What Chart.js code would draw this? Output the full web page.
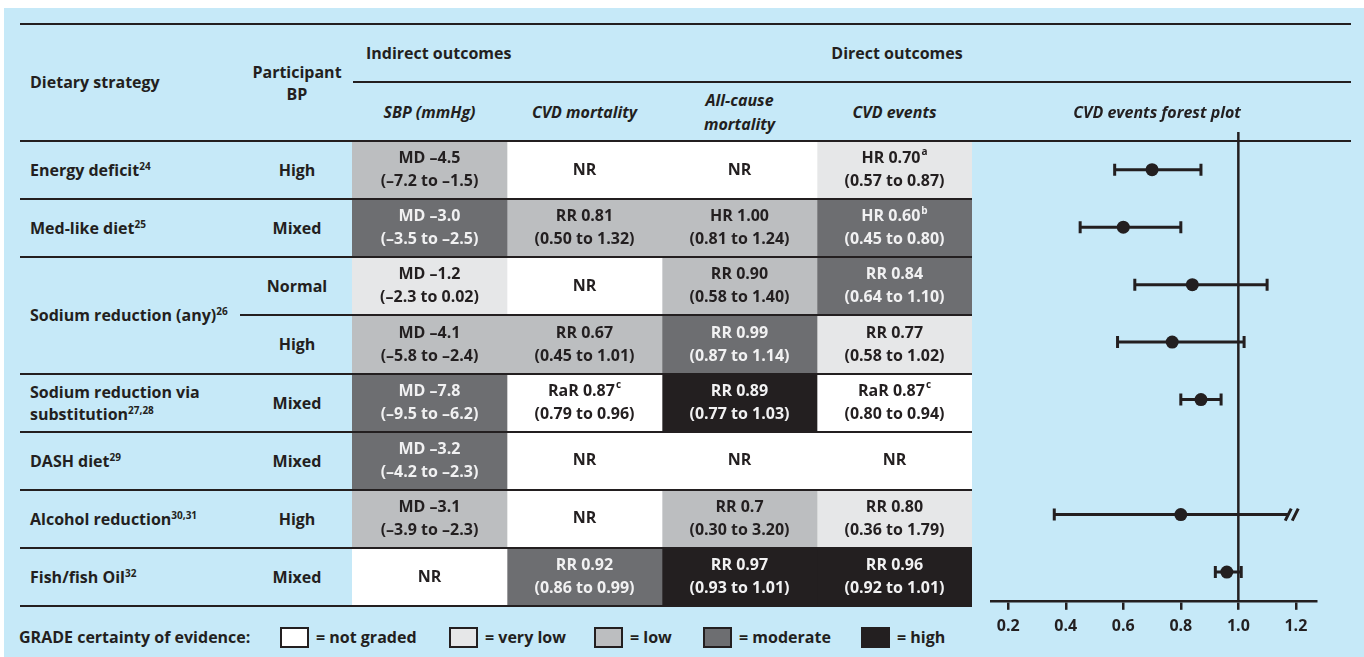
<!DOCTYPE html>
<html>
<head>
<meta charset="utf-8">
<script src="https://cdn.jsdelivr.net/npm/chart.js@4.4.1/dist/chart.umd.min.js"></script>
<style>
  body { margin: 0; background: #fff; font-family: 'Open Sans', sans-serif; font-weight: 700; color: #231f20; }
  #panel { position: absolute; left: 4px; top: 8px; width: 1360px; height: 649px; background: #c6e9f8; }
  .t { position: absolute; font-size: 16px; line-height: 22px; white-space: nowrap; }
  .c { text-align: center; transform: translate(-50%, -50%); }
  .l { transform: translate(0, -50%); }
  .i { font-style: italic; line-height: 24px; }
  .t sup { font-size: 10px; line-height: 0; vertical-align: 6px; }
  .rule { position: absolute; height: 2px; background: #231f20; }
  .box { position: absolute; width: 25px; height: 17px; border: 2px solid #231f20; }
  canvas { position: absolute; }
</style>
</head>
<body>
<div id="panel"></div>
<canvas id="cells" width="620" height="465" style="left:352px;top:141px"></canvas>
<canvas id="forest" width="379" height="545" style="left:972px;top:112px"></canvas>
<div id="overlay"></div>
<script>
// rows of the table (Sodium reduction (any) has two rows)
const strategies = ['Energy deficit', 'Med-like diet', 'Sodium reduction (any)', 'Sodium reduction via<br>substitution', 'DASH diet', 'Alcohol reduction', 'Fish/fish Oil'];
const strategyRefs = ['24', '25', '26', '27,28', '29', '30,31', '32'];
const strategyRows = [[0], [1], [2, 3], [4], [5], [6], [7]];
const participantBP = ['High', 'Mixed', 'Normal', 'High', 'Mixed', 'Mixed', 'High', 'Mixed'];

const outcomeCols = ['SBP (mmHg)', 'CVD mortality', 'All-cause<br>mortality', 'CVD events'];
// cell texts, '^' marks a footnote letter
const sbp = ['MD –4.5\n(–7.2 to –1.5)', 'MD –3.0\n(–3.5 to –2.5)', 'MD –1.2\n(–2.3 to 0.02)', 'MD –4.1\n(–5.8 to –2.4)',
             'MD –7.8\n(–9.5 to –6.2)', 'MD –3.2\n(–4.2 to –2.3)', 'MD –3.1\n(–3.9 to –2.3)', 'NR'];
const cvdMortality = ['NR', 'RR 0.81\n(0.50 to 1.32)', 'NR', 'RR 0.67\n(0.45 to 1.01)',
                      'RaR 0.87^c\n(0.79 to 0.96)', 'NR', 'NR', 'RR 0.92\n(0.86 to 0.99)'];
const allCause = ['NR', 'HR 1.00\n(0.81 to 1.24)', 'RR 0.90\n(0.58 to 1.40)', 'RR 0.99\n(0.87 to 1.14)',
                  'RR 0.89\n(0.77 to 1.03)', 'NR', 'RR 0.7\n(0.30 to 3.20)', 'RR 0.97\n(0.93 to 1.01)'];
const cvdEvents = ['HR 0.70^a\n(0.57 to 0.87)', 'HR 0.60^b\n(0.45 to 0.80)', 'RR 0.84\n(0.64 to 1.10)', 'RR 0.77\n(0.58 to 1.02)',
                   'RaR 0.87^c\n(0.80 to 0.94)', 'NR', 'RR 0.80\n(0.36 to 1.79)', 'RR 0.96\n(0.92 to 1.01)'];

// GRADE: 0 not graded, 1 very low, 2 low, 3 moderate, 4 high
const gradeNames = ['not graded', 'very low', 'low', 'moderate', 'high'];
const sbpGrade = [2, 3, 1, 2, 3, 3, 2, 0];
const cvdMortalityGrade = [0, 2, 0, 2, 0, 0, 0, 3];
const allCauseGrade = [0, 2, 2, 3, 4, 0, 2, 4];
const cvdEventsGrade = [1, 3, 3, 1, 0, 0, 1, 4];

// CVD events forest plot
const forestEst = [0.70, 0.60, 0.84, 0.77, 0.87, null, 0.80, 0.96];
const forestLo = [0.57, 0.45, 0.64, 0.58, 0.80, null, 0.36, 0.92];
const forestHi = [0.87, 0.80, 1.10, 1.02, 0.94, null, 1.79, 1.01];
const forestTicks = [0.2, 0.4, 0.6, 0.8, 1.0, 1.2];
const forestCut = 1.17; // intervals beyond this are broken with //

const outcomeCells = [sbp, cvdMortality, allCause, cvdEvents];
const outcomeGrades = [sbpGrade, cvdMortalityGrade, allCauseGrade, cvdEventsGrade];
const gradeColors = ['#ffffff', '#e6e7e8', '#bcbec0', '#6d6e71', '#231f20'];
const ink = '#231f20';
const FONT = '"Open Sans", sans-serif';

const rowKeys = participantBP.map((bp, r) => 'row' + r);
const bodyTop = 141, bodyH = 465, rowH = bodyH / rowKeys.length;
const rowMid = r => bodyTop + rowH * (r + 0.5);
const colLeft = 352, colW = 155;

const overlay = document.getElementById('overlay');
function put(html, x, y, cls) {
  const d = document.createElement('div');
  d.className = 't ' + cls;
  d.style.left = x + 'px';
  d.style.top = y + 'px';
  d.innerHTML = html;
  overlay.appendChild(d);
}
function rule(x1, x2, y) {
  const d = document.createElement('div');
  d.className = 'rule';
  d.style.left = x1 + 'px';
  d.style.width = (x2 - x1) + 'px';
  d.style.top = (y - 1) + 'px';
  overlay.appendChild(d);
}

// header
put('Dietary strategy', 30, 82, 'l');
put('Participant<br>BP', 297, 83, 'c');
put('Indirect outcomes', 366, 53, 'l');
put('Direct outcomes', 897, 53, 'c');
outcomeCols.forEach((name, c) => put(name, colLeft + colW * (c + 0.5), 112, 'c i'));
put('CVD events forest plot', 1157, 112, 'c i');
rule(20, 1351, 24);
rule(353, 1351, 82);
rule(20, 1351, bodyTop);

// left columns
strategies.forEach((s, k) => {
  const rows = strategyRows[k];
  const y = (rowMid(rows[0]) + rowMid(rows[rows.length - 1])) / 2;
  put(s + '<sup>' + strategyRefs[k] + '</sup>', 30, y, 'l');
});
participantBP.forEach((bp, r) => put(bp, 297, rowMid(r), 'c'));
rowKeys.forEach((k, r) => {
  const y = bodyTop + rowH * (r + 1);
  const sub = strategyRows.some(g => g.length > 1 && g[0] === r);
  rule(sub ? 240 : 20, 972, y);
});

// legend
put('GRADE certainty of evidence:', 19, 637, 'l');
const legendX = [280, 449, 594, 703, 861];
gradeNames.forEach((g, i) => {
  const b = document.createElement('div');
  b.className = 'box';
  b.style.left = legendX[i] + 'px';
  b.style.top = '627px';
  b.style.background = gradeColors[i];
  overlay.appendChild(b);
  put('= ' + g, legendX[i] + 36, 637, 'l');
});

const cellText = {
  id: 'cellText',
  afterDatasetsDraw(chart) {
    const { ctx, scales: { x, y } } = chart;
    ctx.save();
    ctx.textAlign = 'left';
    ctx.textBaseline = 'middle';
    outcomeCells.forEach((col, c) => col.forEach((txt, r) => {
      const cx = x.getPixelForValue(c + 0.5);
      const cy = y.getPixelForValue(r);
      const lines = txt.split('\n');
      ctx.fillStyle = outcomeGrades[c][r] >= 3 ? '#f1f1f2' : ink;
      lines.forEach((ln, k) => {
        const ly = cy + (k - (lines.length - 1) / 2) * 23;
        const [main, sup] = ln.split('^');
        ctx.font = '700 16px ' + FONT;
        const w = ctx.measureText(main).width;
        let sw = 0;
        if (sup) { ctx.font = '700 10px ' + FONT; sw = ctx.measureText(sup).width + 1; }
        const sx = cx - (w + sw) / 2;
        ctx.font = '700 16px ' + FONT;
        ctx.fillText(main, sx, ly);
        if (sup) { ctx.font = '700 10px ' + FONT; ctx.fillText(sup, sx + w + 1, ly - 6); }
      });
    }));
    ctx.restore();
  }
};

const forestBars = {
  id: 'forestBars',
  beforeDatasetsDraw(chart) {
    const { ctx, chartArea, scales: { x, y } } = chart;
    ctx.save();
    ctx.strokeStyle = ink;
    ctx.lineWidth = 2.5;
    const x1 = x.getPixelForValue(1);
    ctx.beginPath();
    ctx.moveTo(x1, chartArea.top);
    ctx.lineTo(x1, chartArea.bottom);
    ctx.stroke();
    ctx.lineWidth = 3;
    forestEst.forEach((e, i) => {
      if (e == null) return;
      const py = y.getPixelForValue(i + 0.5);
      const lo = x.getPixelForValue(forestLo[i]);
      const cut = forestHi[i] > forestCut;
      const hi = x.getPixelForValue(Math.min(forestHi[i], forestCut));
      ctx.beginPath();
      ctx.moveTo(lo, py); ctx.lineTo(hi, py);
      ctx.moveTo(lo, py - 6); ctx.lineTo(lo, py + 6);
      if (cut) {
        [1, 8].forEach(o => { ctx.moveTo(hi + o - 3, py + 6); ctx.lineTo(hi + o + 3, py - 6); });
      } else {
        ctx.moveTo(hi, py - 6); ctx.lineTo(hi, py + 6);
      }
      ctx.stroke();
    });
    ctx.restore();
  }
};

async function main() {
  try {
    await document.fonts.load('700 16px "Open Sans"');
    await document.fonts.load('italic 700 16px "Open Sans"');
  } catch (e) {}

  new Chart(document.getElementById('cells'), {
    type: 'bar',
    data: {
      labels: rowKeys,
      datasets: outcomeCells.map((col, c) => ({
        label: outcomeCols[c],
        data: col.map((_, r) => ({ x: [c, c + 1], y: rowKeys[r] })),
        backgroundColor: outcomeGrades[c].map(g => gradeColors[g]),
        borderWidth: 0,
        barPercentage: 1,
        categoryPercentage: 1,
        grouped: false
      }))
    },
    options: {
      indexAxis: 'y',
      responsive: false,
      animation: false,
      layout: { padding: 0 },
      plugins: { legend: { display: false }, tooltip: { enabled: false } },
      scales: {
        x: { type: 'linear', min: 0, max: outcomeCols.length, display: false },
        y: { type: 'category', offset: true, display: false }
      }
    },
    plugins: [cellText]
  });

  new Chart(document.getElementById('forest'), {
    type: 'scatter',
    data: {
      datasets: [{
        label: 'CVD events',
        data: forestEst.map((e, i) => (e == null ? null : { x: e, y: i + 0.5 })).filter(Boolean),
        pointRadius: 6.5,
        pointHoverRadius: 6.5,
        backgroundColor: ink,
        borderWidth: 0
      }]
    },
    options: {
      responsive: false,
      animation: false,
      layout: { padding: { left: 19, right: 35, top: 20, bottom: 14 } },
      plugins: { legend: { display: false }, tooltip: { enabled: false } },
      scales: {
        x: {
          type: 'linear', min: 0.14, max: 1.27,
          afterBuildTicks: s => { s.ticks = forestTicks.map(v => ({ value: v })); },
          grid: { drawOnChartArea: false, drawTicks: true, tickLength: 9, color: ink, lineWidth: 2.5 },
          border: { display: true, color: ink, width: 2.5 },
          ticks: { color: ink, padding: 7, font: { family: FONT, size: 16, weight: '700' }, callback: v => v.toFixed(1) }
        },
        y: { type: 'linear', min: -0.155, max: 8, reverse: true, display: false }
      }
    },
    plugins: [forestBars]
  });
}
main();
</script>
</body>
</html>
